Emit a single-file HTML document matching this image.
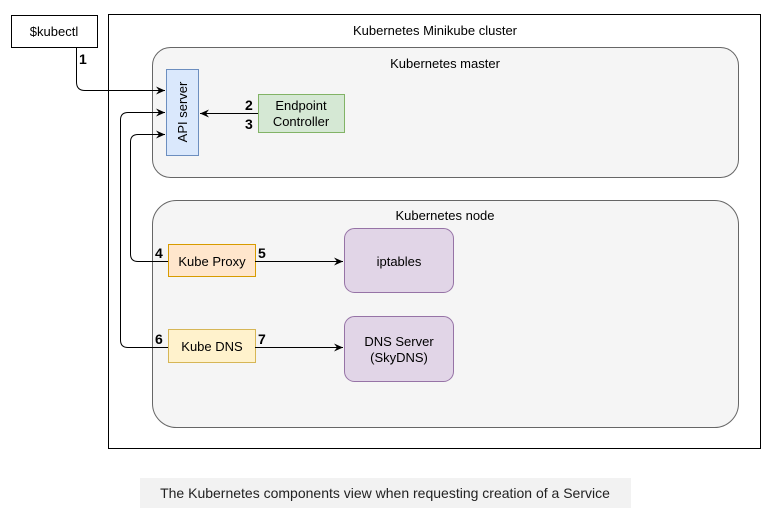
<!DOCTYPE html>
<html><head><style>
body{margin:0;background:#fff;width:776px;height:515px;overflow:hidden}
</style></head><body>
<svg width="776" height="515" xmlns="http://www.w3.org/2000/svg" font-family="Liberation Sans, sans-serif" font-size="13">
<defs><marker id="a" markerWidth="10" markerHeight="10" refX="9" refY="5" orient="auto" markerUnits="userSpaceOnUse"><path d="M0,1 L9,5 L0,9 L3,5 Z" fill="#000"/></marker></defs>
<rect x="108.5" y="14.5" width="652" height="434" fill="#fff" stroke="#000"/>
<text x="435" y="35" text-anchor="middle">Kubernetes Minikube cluster</text>
<rect x="152.5" y="47.5" width="586" height="130" rx="18" fill="#f5f5f5" stroke="#666"/>
<text x="445" y="68" text-anchor="middle">Kubernetes master</text>
<rect x="152.5" y="200.5" width="586" height="227" rx="24" fill="#f5f5f5" stroke="#666"/>
<text x="445" y="220" text-anchor="middle">Kubernetes node</text>
<rect x="11.5" y="15.5" width="86" height="32" fill="#fff" stroke="#000"/>
<text x="54" y="36" text-anchor="middle">$kubectl</text>
<rect x="166.5" y="69.5" width="32" height="86" fill="#dae8fc" stroke="#6c8ebf"/>
<text transform="translate(187,112) rotate(-90)" text-anchor="middle">API server</text>
<rect x="258.5" y="94.5" width="86" height="38" fill="#d5e8d4" stroke="#82b366"/>
<text x="301" y="110" text-anchor="middle">Endpoint</text>
<text x="301" y="126" text-anchor="middle">Controller</text>
<rect x="168.5" y="244.5" width="87" height="32" fill="#ffe6cc" stroke="#d79b00"/>
<text x="212" y="266" text-anchor="middle">Kube Proxy</text>
<rect x="168.5" y="329.5" width="87" height="33" fill="#fff2cc" stroke="#d6b656"/>
<text x="212" y="351" text-anchor="middle">Kube DNS</text>
<rect x="344.5" y="228.5" width="109" height="64" rx="10" fill="#e1d5e7" stroke="#9673a6"/>
<text x="399" y="266" text-anchor="middle">iptables</text>
<rect x="344.5" y="316.5" width="109" height="65" rx="10" fill="#e1d5e7" stroke="#9673a6"/>
<text x="399" y="346" text-anchor="middle">DNS Server</text>
<text x="399" y="362" text-anchor="middle">(SkyDNS)</text>
<g fill="none" stroke="#000" stroke-width="1">
<path d="M76.5,47 V82 Q76.5,90.5 85,90.5 H165" marker-end="url(#a)"/>
<path d="M258,113.5 H200" marker-end="url(#a)"/>
<path d="M168,347.5 H128 Q120.5,347.5 120.5,340 V120 Q120.5,112.5 128,112.5 H165" marker-end="url(#a)"/>
<path d="M168,261.5 H138 Q130.5,261.5 130.5,254 V142 Q130.5,134.5 138,134.5 H165" marker-end="url(#a)"/>
<path d="M255,261.5 H343" marker-end="url(#a)"/>
<path d="M255,347.5 H343" marker-end="url(#a)"/>
</g>
<g font-weight="bold" font-size="14">
<text x="79" y="64">1</text>
<text x="245" y="110">2</text>
<text x="245" y="129">3</text>
<text x="155" y="258">4</text>
<text x="258" y="258">5</text>
<text x="155" y="344">6</text>
<text x="258" y="344">7</text>
</g>
<rect x="140" y="478" width="491" height="30" fill="#f2f2f2"/>
<text x="385" y="498" text-anchor="middle" font-size="14" fill="#222">The Kubernetes components view when requesting creation of a Service</text>
</svg>
</body></html>
